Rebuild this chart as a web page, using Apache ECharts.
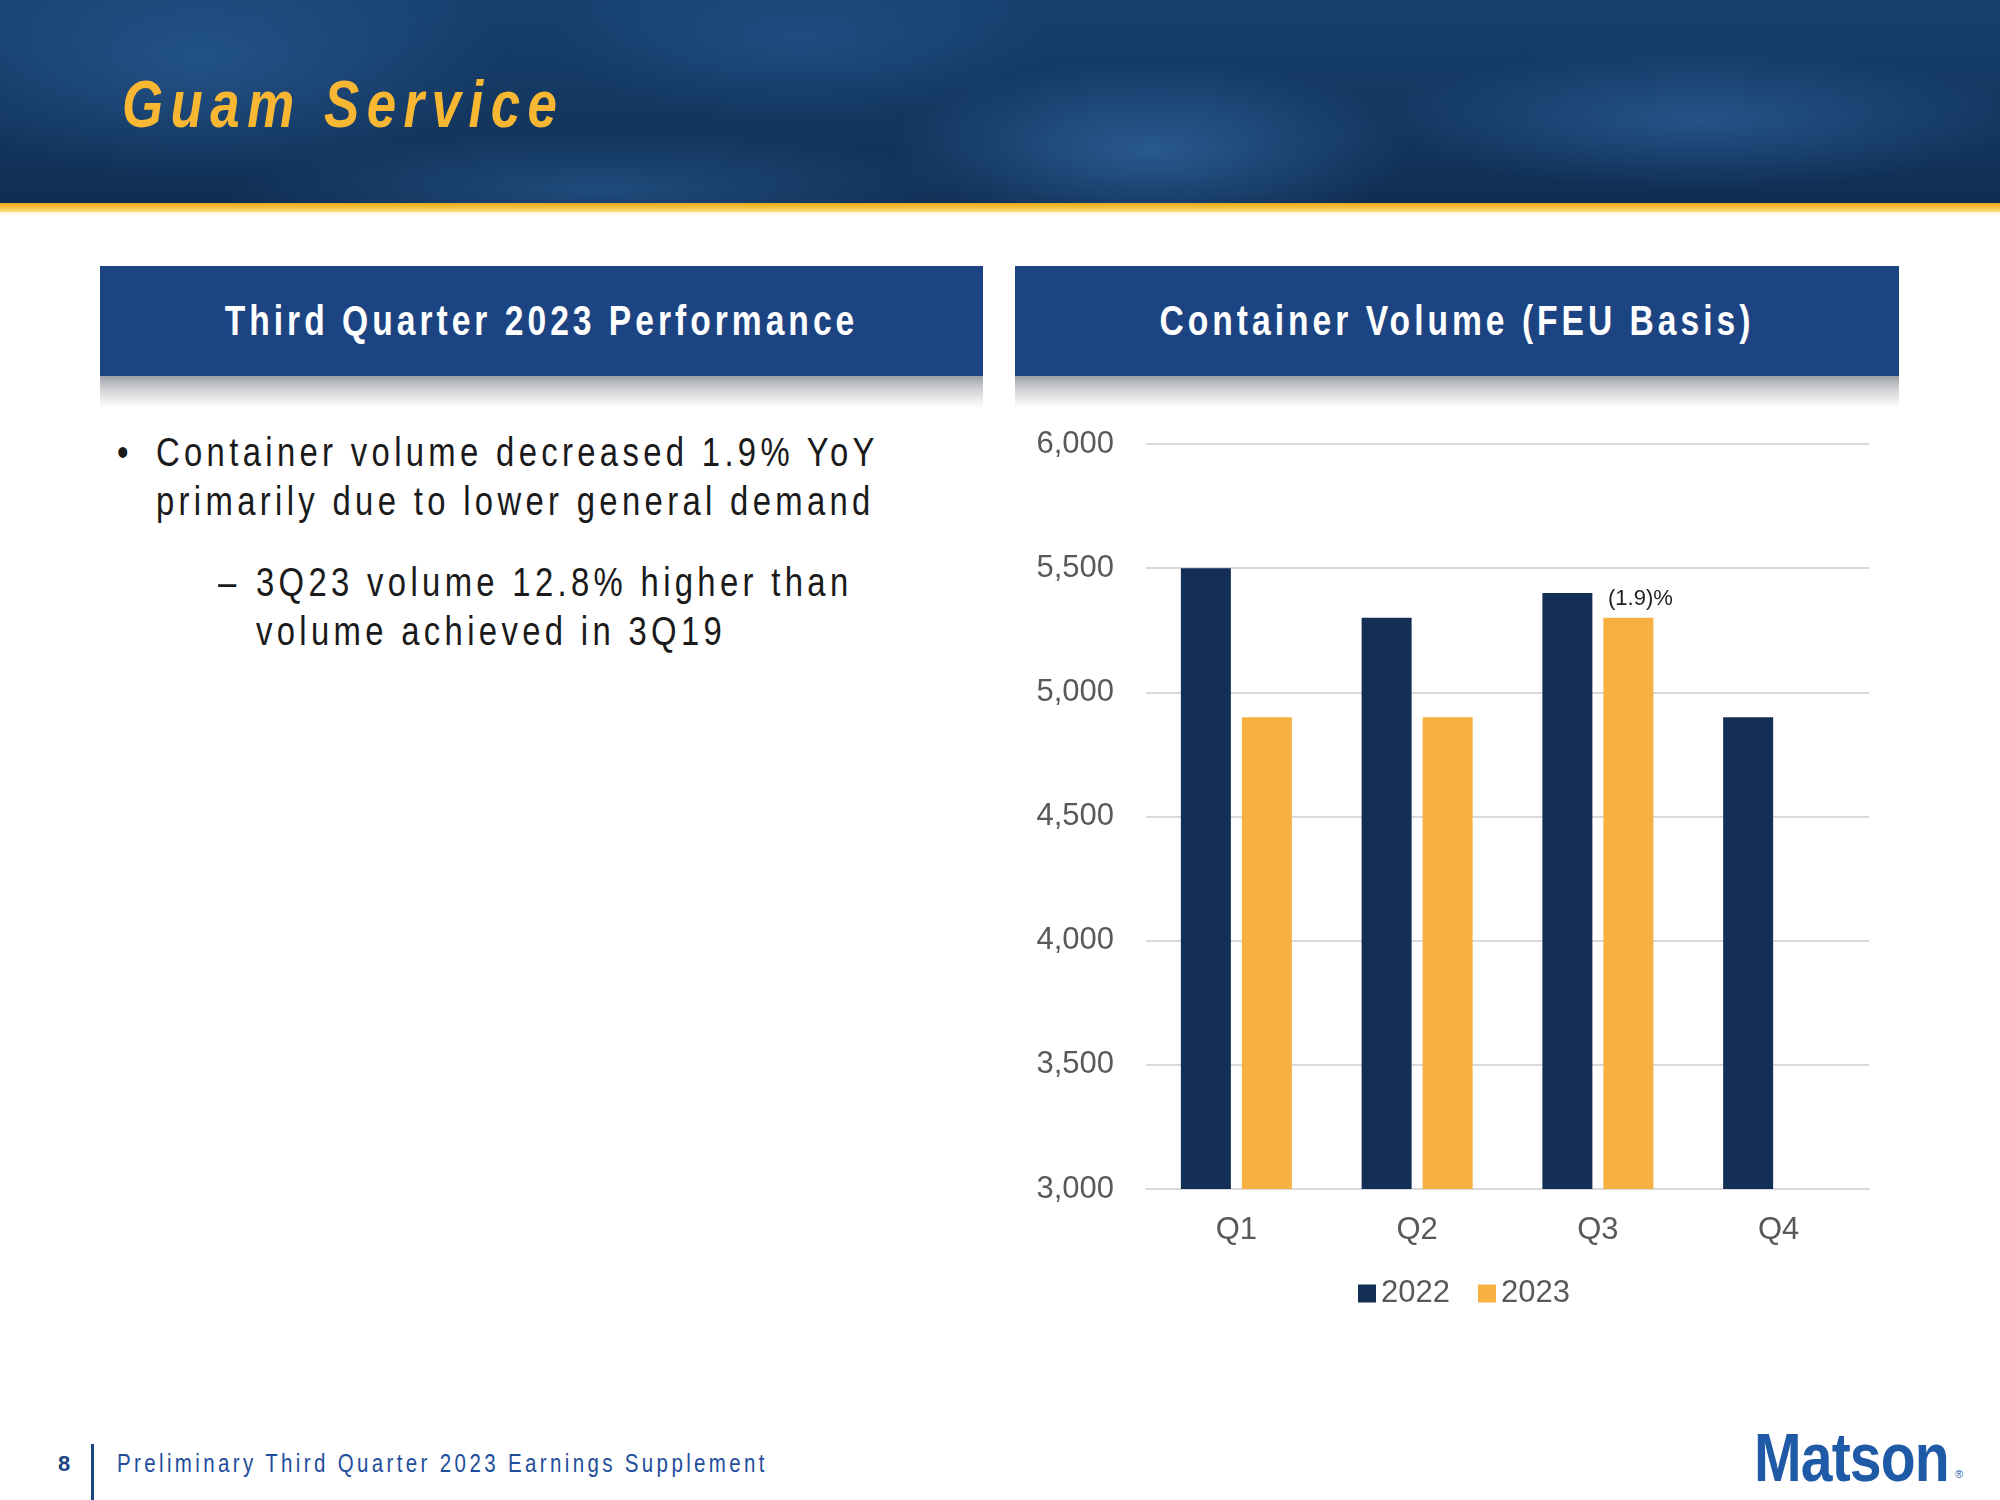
<!DOCTYPE html>
<html>
<head>
<meta charset="utf-8">
<script src="https://cdn.jsdelivr.net/npm/echarts@6/dist/echarts.min.js"></script>
<style>
  html, body { margin:0; padding:0; background:#fff; }
  body { width:2000px; height:1500px; position:relative; overflow:hidden;
         font-family:"Liberation Sans Narrow","Arial Narrow","Liberation Sans",sans-serif; }
  .abs { position:absolute; }
  .nar { transform-origin:left center; }
  #hdr { left:0; top:0; width:2000px; height:204px;
    background:
      radial-gradient(ellipse 260px 90px at 1150px 150px, rgba(60,120,185,0.55), rgba(60,120,185,0) 100%),
      radial-gradient(ellipse 320px 70px at 1700px 120px, rgba(55,110,175,0.5), rgba(55,110,175,0) 100%),
      radial-gradient(ellipse 300px 120px at 200px 60px, rgba(45,100,160,0.55), rgba(45,100,160,0) 100%),
      radial-gradient(ellipse 380px 60px at 600px 190px, rgba(50,110,170,0.45), rgba(50,110,170,0) 100%),
      radial-gradient(ellipse 250px 80px at 800px 40px, rgba(40,95,155,0.45), rgba(40,95,155,0) 100%),
      linear-gradient(180deg, #17416f 0%, #13365f 60%, #0f2d52 100%);
  }
  #gold { left:0; top:203px; width:2000px; height:9px;
    background:linear-gradient(180deg,#e8a91f 0%,#f6c23c 50%,#fbe08a 100%); }
  #gold2 { left:0; top:212px; width:2000px; height:4px;
    background:linear-gradient(180deg,#fdf3d6 0%,#ffffff 100%); }
  #title { left:122px; top:66px; font-size:66px; line-height:76px; font-weight:bold; font-style:italic;
    color:#f7b732; letter-spacing:9.4px; white-space:nowrap; transform:scaleX(0.8); transform-origin:left center; }
  .panel { top:266px; height:110px; background:#1c4483; }
  .ptxt { top:266px; height:110px; color:#fff; font-weight:bold; font-size:42px; line-height:110px;
    text-align:center; letter-spacing:5px; white-space:nowrap; transform:scaleX(0.8); transform-origin:center center; }
  .shadow { top:376px; height:32px;
    background:linear-gradient(180deg,#9b9fa5 0%,#c9cbce 35%,#eceded 75%,#ffffff 100%); }
  .txt { color:#1a1a1a; font-size:40px; line-height:50px; white-space:nowrap; letter-spacing:5.3px;
    transform:scaleX(0.82); transform-origin:left center; }
  #foot8 { left:58px; top:1451px; font-size:22px; color:#1c4483; font-weight:bold; }
  #footline { left:91px; top:1444px; width:3px; height:56px; background:#1c4483; }
  #foottxt { left:117px; top:1449px; font-size:25px; color:#1f4e9c; letter-spacing:4.1px; white-space:nowrap;
    transform:scaleX(0.82); transform-origin:left center; }
  #logo { left:1754px; top:1418px; font-size:68px; font-weight:bold; color:#1f5aa6; letter-spacing:-1px; white-space:nowrap;
    transform:scaleX(0.84); transform-origin:left center; }
  #reg { left:1955px; top:1468px; font-size:11px; color:#1f5aa6; }
  #chart { left:0; top:0; width:2000px; height:1500px; }
</style>
</head>
<body>
<div id="hdr" class="abs"></div>
<div id="gold" class="abs"></div>
<div id="gold2" class="abs"></div>
<div id="title" class="abs">Guam Service</div>

<div class="abs panel" style="left:100px;width:883px;"></div>
<div class="abs ptxt" style="left:100px;width:883px;">Third Quarter 2023 Performance</div>
<div class="abs shadow" style="left:100px;width:883px;"></div>
<div class="abs panel" style="left:1015px;width:884px;"></div>
<div class="abs ptxt" style="left:1015px;width:884px;">Container Volume (FEU Basis)</div>
<div class="abs shadow" style="left:1015px;width:884px;"></div>

<div class="abs txt" style="left:117px;top:427px;">•</div>
<div class="abs txt" style="left:156px;top:427px;">Container volume decreased 1.9% YoY</div>
<div class="abs txt" style="left:156px;top:476px;">primarily due to lower general demand</div>
<div class="abs txt" style="left:218px;top:557px;">–</div>
<div class="abs txt" style="left:256px;top:557px;">3Q23 volume 12.8% higher than</div>
<div class="abs txt" style="left:256px;top:606px;">volume achieved in 3Q19</div>

<div id="foot8" class="abs">8</div>
<div id="footline" class="abs"></div>
<div id="foottxt" class="abs">Preliminary Third Quarter 2023 Earnings Supplement</div>
<div id="logo" class="abs">Matson</div>
<div id="reg" class="abs">®</div>

<div id="chart" class="abs"></div>

<script>
const categories = ['Q1', 'Q2', 'Q3', 'Q4'];
const seriesNames = ['2022', '2023'];
const volume2022 = [5500, 5300, 5400, 4900];
const volume2023 = [4900, 4900, 5300, null];
const annotations2023 = ['', '', '(1.9)%', ''];
const yTicks = { min: 3000, max: 6000, interval: 500 };

const FONT = '"Liberation Sans Narrow","Arial Narrow","Liberation Sans",sans-serif';
const GRAY = '#595959';

const chart = echarts.init(document.getElementById('chart'), null, { renderer: 'canvas' });

const data2023 = volume2023.map((v, i) => {
  const item = { value: v };
  if (annotations2023[i]) {
    item.label = {
      show: true, position: 'top', distance: 8, offset: [12, 0],
      formatter: annotations2023[i], fontSize: 22, color: '#222', fontFamily: FONT
    };
  }
  return item;
});

chart.setOption({
  backgroundColor: 'transparent',
  animation: false,
  grid: { left: 1146, right: 131, top: 444, bottom: 311, containLabel: false },
  legend: {
    data: seriesNames, left: 1353, top: 1273, icon: 'rect',
    itemWidth: 18, itemHeight: 18, itemGap: 28,
    textStyle: { fontSize: 31, color: GRAY, fontFamily: FONT, padding: [0, 0, 0, 0] }
  },
  xAxis: {
    type: 'category', data: categories,
    axisLine: { show: true, lineStyle: { color: '#d9d9d9', width: 2 } },
    axisTick: { show: false },
    axisLabel: { fontSize: 31, color: GRAY, fontFamily: FONT, margin: 26 }
  },
  yAxis: {
    type: 'value', min: yTicks.min, max: yTicks.max, interval: yTicks.interval,
    axisLine: { show: false }, axisTick: { show: false },
    splitLine: { lineStyle: { color: '#d9d9d9', width: 2 } },
    axisLabel: { fontSize: 31, color: GRAY, fontFamily: FONT, margin: 32,
      formatter: v => v.toLocaleString('en-US') }
  },
  series: [
    { name: seriesNames[0], type: 'bar', data: volume2022, barWidth: 50, barGap: '22%',
      itemStyle: { color: '#142f55' } },
    { name: seriesNames[1], type: 'bar', data: data2023, barWidth: 50,
      itemStyle: { color: '#f7b042' } }
  ]
});
</script>
</body>
</html>
